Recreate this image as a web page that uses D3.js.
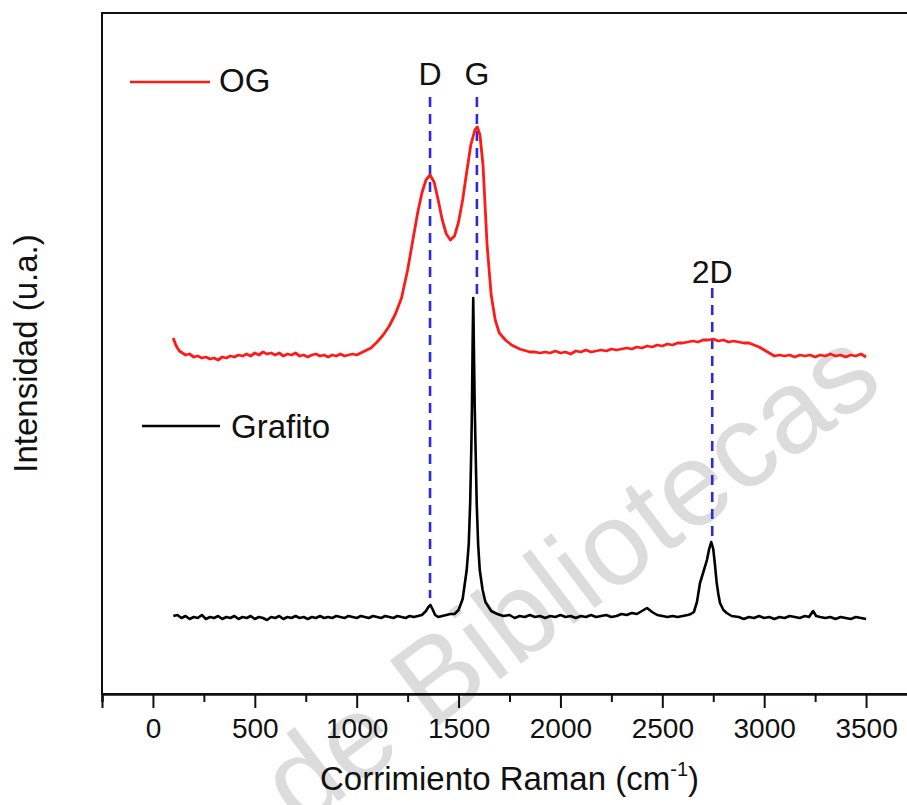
<!DOCTYPE html>
<html>
<head>
<meta charset="utf-8">
<script src="https://cdn.jsdelivr.net/npm/d3@7"></script>
<style>
  html, body { margin: 0; padding: 0; background: #ffffff; }
  svg { display: block; }
  text { font-family: "Liberation Sans", Arial, sans-serif; fill: #111; }
</style>
</head>
<body>
<svg id="chart" width="907" height="805"></svg>
<script>
// ---------------- data (Raman shift in cm^-1, intensity in arbitrary units) ----------------
const ogShift = [100,110,120,130,145,160,180,200,220,240,260,280,300,320,340,360,380,400,420,440,460,480,500,520,540,560,580,600,620,640,660,680,700,720,740,760,780,800,820,840,860,880,900,920,940,960,980,1000,1020,1040,1070,1100,1130,1160,1190,1220,1250,1280,1300,1320,1340,1360,1380,1400,1420,1440,1460,1480,1500,1520,1540,1560,1580,1592,1605,1620,1640,1660,1680,1700,1730,1760,1800,1850,1875,1900,1925,1950,1975,2000,2025,2050,2075,2100,2125,2150,2175,2200,2225,2250,2275,2300,2325,2350,2375,2400,2425,2450,2475,2500,2525,2550,2575,2600,2625,2650,2675,2700,2725,2750,2775,2800,2825,2850,2875,2900,2925,2950,2975,3000,3025,3050,3075,3100,3125,3150,3175,3200,3225,3250,3275,3300,3325,3350,3375,3400,3425,3450,3475,3500];
const ogIntensity = [356,350,346,343,341,339,340,337,338,336,337,335,336,334,337,336,338,337,339,338,340,338,341,339,342,340,341,339,341,338,340,339,341,338,339,337,339,340,338,339,337,339,338,340,338,339,340,339,341,343,346,352,359,368,380,396,424,459,482,501,514,519,512,494,474,460,454,458,472,494,522,549,564,567,559,529,449,399,374,361,354,349,345,342,342,341,342,341,343,341,342,340,343,342,344,342,343,344,343,345,344,345,346,345,347,346,348,347,349,348,350,349,351,351,352,353,352,354,354,355,353,354,352,353,352,351,351,349,347,344,341,338,339,338,339,337,339,338,339,337,339,338,340,338,339,337,339,338,340,337];

const grafitoShift = [100,120,140,160,180,200,220,240,260,280,300,320,340,360,380,400,420,440,460,480,500,520,540,560,580,600,620,640,660,680,700,720,740,760,780,800,820,840,860,880,900,920,940,960,980,1000,1020,1040,1060,1080,1100,1120,1140,1160,1180,1200,1220,1240,1260,1280,1300,1320,1340,1352,1362,1372,1385,1400,1420,1440,1460,1480,1500,1520,1540,1550,1557,1563,1566,1569,1572,1575,1579,1583,1589,1596,1604,1618,1632,1660,1690,1720,1750,1775,1800,1825,1850,1875,1900,1925,1950,1975,2000,2025,2050,2075,2100,2125,2150,2175,2200,2225,2250,2275,2300,2325,2350,2375,2400,2425,2450,2475,2500,2525,2550,2575,2600,2625,2640,2655,2670,2685,2700,2719,2730,2740,2750,2758,2767,2775,2783,2800,2816,2840,2875,2900,2925,2950,2975,3000,3025,3050,3075,3100,3125,3150,3175,3200,3220,3240,3255,3275,3300,3325,3350,3375,3400,3425,3450,3475,3500];
const grafitoIntensity = [78,79,76,78,75,77,76,79,75,77,76,78,75,77,76,78,75,77,76,78,75,77,76,74,77,76,78,75,77,76,78,76,77,75,77,76,78,76,77,76,78,77,76,78,77,76,78,77,76,78,77,76,78,77,76,78,77,76,78,77,78,79,83,87,89,85,79,77,78,79,80,80,84,95,124,150,191,250,291,350,396,350,291,250,191,150,124,104,92,83,80,78,79,76,78,77,79,77,78,76,78,77,79,77,78,76,78,77,79,77,78,79,77,78,80,79,81,80,83,86,82,79,78,77,78,77,78,79,80,82,92,111,121,134,145,152,145,130,111,100,91,84,81,78,77,75,77,76,78,76,77,75,77,76,78,77,76,78,77,83,78,77,76,77,75,77,76,75,77,76,75];

// reference lines for the Raman bands
const bandNames = ["D", "G", "2D"];
const bandShift = [1360, 1590, 2745];
const bandLineTop = [597, 597, 406];
const bandLineBottom = [96, 399, 157];
const bandLabelLevel = [609, 609, 411];

const seriesNames = ["OG", "Grafito"];
const seriesColors = ["#ff1a1a", "#000000"];

const xMajorTicks = [0, 500, 1000, 1500, 2000, 2500, 3000, 3500];
const xMinorTicks = [-250, 250, 750, 1250, 1750, 2250, 2750, 3250, 3750];

// ---------------- layout ----------------
(function draw() {
  const svg = d3.select("#chart");
  const pL = 102, pR = 917, pT = 13, pB = 694;

  const x = d3.scaleLinear().domain([-250, 3750]).range([pL, pR]);
  const y = d3.scaleLinear().domain([0, 681]).range([pB, pT]);

  // watermark (light grey, behind everything)
  svg.append("text")
    .attr("transform", "translate(300,830) rotate(-37)")
    .attr("font-size", 118)
    .style("fill", "#dcdcdc")
    .text("de Bibliotecas");

  // band dashed lines
  bandShift.forEach((s, i) => {
    svg.append("line")
      .attr("x1", x(s)).attr("x2", x(s))
      .attr("y1", y(bandLineTop[i])).attr("y2", y(bandLineBottom[i]))
      .attr("stroke", "#2b2bdb").attr("stroke-width", 2.6)
      .attr("stroke-dasharray", "10,7");
    svg.append("text")
      .attr("x", x(s)).attr("y", y(bandLabelLevel[i]))
      .attr("text-anchor", "middle")
      .attr("font-size", 32)
      .text(bandNames[i]);
  });

  const line = d3.line().x(d => x(d[0])).y(d => y(d[1]));

  const ogData = ogShift.map((s, i) => [s, ogIntensity[i]]);
  const grData = grafitoShift.map((s, i) => [s, grafitoIntensity[i]]);

  svg.append("path").datum(grData)
    .attr("d", line).attr("fill", "none")
    .attr("stroke", seriesColors[1]).attr("stroke-width", 2.6)
    .attr("stroke-linejoin", "round");

  svg.append("path").datum(ogData)
    .attr("d", line).attr("fill", "none")
    .attr("stroke", seriesColors[0]).attr("stroke-width", 2.8)
    .attr("stroke-linejoin", "round");

  // frame
  svg.append("rect")
    .attr("x", pL).attr("y", pT)
    .attr("width", pR - pL).attr("height", pB - pT)
    .attr("fill", "none").attr("stroke", "#111").attr("stroke-width", 2);

  // x axis
  const gMinor = svg.append("g").attr("transform", `translate(0,${pB})`)
    .call(d3.axisBottom(x).tickValues(xMinorTicks).tickSize(8).tickFormat(""));
  const gMajor = svg.append("g").attr("transform", `translate(0,${pB})`)
    .call(d3.axisBottom(x).tickValues(xMajorTicks).tickSize(14).tickPadding(10).tickFormat(d3.format("d")));
  [gMinor, gMajor].forEach(g => {
    g.select(".domain").attr("stroke", "#111").attr("stroke-width", 2);
    g.selectAll(".tick line").attr("stroke", "#111").attr("stroke-width", 2);
  });
  gMajor.selectAll(".tick text")
    .attr("font-size", 28)
    .style("font-family", "'Liberation Sans', Arial, sans-serif")
    .style("fill", "#111");

  // axis titles
  const xt = svg.append("text")
    .attr("x", (pL + pR) / 2).attr("y", 790)
    .attr("text-anchor", "middle")
    .attr("font-size", 33);
  xt.append("tspan").text("Corrimiento Raman (cm");
  xt.append("tspan").attr("font-size", 20).attr("dy", -14).text("-1");
  xt.append("tspan").attr("dy", 14).text(")");

  svg.append("text")
    .attr("transform", `translate(37,${(pT + pB) / 2}) rotate(-90)`)
    .attr("text-anchor", "middle")
    .attr("font-size", 33)
    .text("Intensidad (u.a.)");

  // legend
  const legendItems = [
    { x1: 130, x2: 210, y: 82, tx: 219, ty: 92 },
    { x1: 142, x2: 220, y: 426, tx: 231, ty: 438 }
  ];
  legendItems.forEach((it, i) => {
    svg.append("line")
      .attr("x1", it.x1).attr("x2", it.x2).attr("y1", it.y).attr("y2", it.y)
      .attr("stroke", seriesColors[i]).attr("stroke-width", 2.6);
    svg.append("text")
      .attr("x", it.tx).attr("y", it.ty)
      .attr("font-size", 33)
      .text(seriesNames[i]);
  });
})();
</script>
</body>
</html>
